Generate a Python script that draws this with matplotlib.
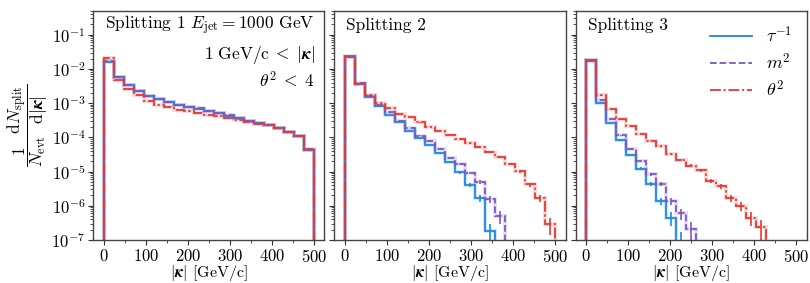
import numpy as np
import matplotlib.pyplot as plt
from matplotlib.ticker import MultipleLocator, LogLocator, NullFormatter

plt.rcParams.update({
    'font.family': 'serif',
    'font.serif': ['cmr10'],
    'mathtext.fontset': 'cm',
    'axes.formatter.use_mathtext': True,
    'axes.unicode_minus': False,
})

# bins in |kappa| [GeV/c]
kappa_edges = np.linspace(0, 500, 22)
bin_width = kappa_edges[1] - kappa_edges[0]
n_evt = 5e5  # used only for the statistical error bars

# Splitting 1
s1_tau = [1.64e-2, 5.7e-3, 3.43e-3, 2.23e-3, 1.62e-3, 1.28e-3, 1.06e-3, 9.0e-4, 7.8e-4, 6.9e-4,
          6.0e-4, 5.2e-4, 4.3e-4, 3.6e-4, 3.05e-4, 2.65e-4, 2.3e-4, 1.9e-4, 1.43e-4, 1.09e-4, 4.3e-5]
s1_m2 = [1.66e-2, 5.8e-3, 3.47e-3, 2.26e-3, 1.64e-3, 1.3e-3, 1.07e-3, 9.1e-4, 7.9e-4, 7.0e-4,
         6.05e-4, 5.25e-4, 4.35e-4, 3.62e-4, 3.07e-4, 2.66e-4, 2.31e-4, 1.91e-4, 1.44e-4, 1.1e-4, 4.4e-5]
s1_theta = [2.04e-2, 4.79e-3, 2.5e-3, 1.67e-3, 1.12e-3, 8.95e-4, 7.48e-4, 6.32e-4, 5.71e-4, 5.1e-4,
            4.58e-4, 4.17e-4, 3.65e-4, 3.27e-4, 2.73e-4, 2.47e-4, 2.23e-4, 1.89e-4, 1.4e-4, 1.07e-4, 4.69e-5]

# Splitting 2
s2_tau = [2.33e-2, 3.66e-3, 1.49e-3, 8.0e-4, 4.58e-4, 2.73e-4, 1.49e-4, 9.5e-5, 5.8e-5, 3.53e-5,
          1.91e-5, 9.6e-6, 4.0e-6, 1.71e-6, 1.8e-7]
s2_m2 = [2.29e-2, 3.92e-3, 1.6e-3, 8.55e-4, 5.35e-4, 2.98e-4, 1.87e-4, 1.12e-4, 7.6e-5, 4.69e-5,
         2.56e-5, 1.71e-5, 9.1e-6, 5.0e-6, 1.56e-6, 5.1e-7]
s2_theta = [2.29e-2, 3.66e-3, 1.75e-3, 1.02e-3, 7.13e-4, 4.9e-4, 3.9e-4, 2.73e-4, 2.0e-4, 1.52e-4,
            1.2e-4, 8.7e-5, 6.8e-5, 5.2e-5, 3.73e-5, 2.67e-5, 1.71e-5, 1.02e-5, 4.19e-6, 1.64e-6, 2.92e-7]

# Splitting 3
s3_tau = [1.81e-2, 1.02e-3, 2.61e-4, 8.2e-5, 2.99e-5, 1.22e-5, 4.28e-6, 1.37e-6, 4.45e-7, 8.4e-8]
s3_m2 = [1.87e-2, 1.25e-3, 3.5e-4, 1.14e-4, 4.56e-5, 2.04e-5, 8.5e-6, 4.36e-6, 1.37e-6, 6.0e-7, 2.05e-7]
s3_theta = [1.69e-2, 1.67e-3, 6.85e-4, 3.34e-4, 2.09e-4, 1.25e-4, 8.0e-5, 5.5e-5, 3.35e-5, 2.24e-5,
            1.5e-5, 1.09e-5, 5.3e-6, 3.73e-6, 1.64e-6, 9.8e-7, 4.45e-7, 2.44e-7]

panels = [
    ("Splitting 1 $E_{\\rm jet} = 1000$ GeV", s1_tau, s1_m2, s1_theta),
    ("Splitting 2", s2_tau, s2_m2, s2_theta),
    ("Splitting 3", s3_tau, s3_m2, s3_theta),
]

c_tau = '#1E88E5'
c_m2 = '#7E57C2'
c_theta = '#E53935'
dashdot = (0, (6, 1.5, 1.2, 1.5))


def draw_hist(ax, vals, color, ls, label):
    v = np.array(vals)
    e = kappa_edges[:len(v) + 1]
    # light halo under the line
    ax.stairs(v, e, baseline=1e-12, color=color, lw=2.8, alpha=0.2)
    ax.stairs(v, e, baseline=1e-12, color=color, lw=1.3, ls=ls, label=label)
    centers = 0.5 * (e[:-1] + e[1:])
    err = np.sqrt(v / (n_evt * bin_width))
    lo = np.minimum(err, v * 0.999)
    ax.errorbar(centers, v, yerr=[lo, err], fmt='none', ecolor=color, elinewidth=1.2)


fig, axes = plt.subplots(1, 3, figsize=(8.1, 2.83), dpi=100, sharex=True, sharey=True)
plt.subplots_adjust(left=0.115, right=0.996, bottom=0.152, top=0.962, wspace=0.043)

for ax, (title, tau, m2, theta) in zip(axes, panels):
    draw_hist(ax, tau, c_tau, '-', r'$\tau^{-1}$')
    draw_hist(ax, m2, c_m2, '--', r'$m^2$')
    draw_hist(ax, theta, c_theta, dashdot, r'$\theta^2$')
    ax.set_yscale('log')
    ax.set_ylim(1e-7, 0.5)
    ax.set_xlim(-25, 525)
    ax.yaxis.set_major_locator(LogLocator(base=10, numticks=15))
    ax.yaxis.set_minor_locator(LogLocator(base=10, subs=np.arange(2, 10), numticks=15))
    ax.yaxis.set_minor_formatter(NullFormatter())
    ax.xaxis.set_major_locator(MultipleLocator(100))
    ax.xaxis.set_minor_locator(MultipleLocator(50))
    ax.tick_params(labelsize=12, length=3.5, width=0.8, pad=2, color='#333333')
    ax.tick_params(which='minor', length=2, width=0.6, color='#333333')
    for sp in ax.spines.values():
        sp.set_color('#444444')
        sp.set_linewidth(1.0)
    ax.text(0.052, 0.938, title, transform=ax.transAxes, fontsize=12.5, va='center', ha='left')
    ax.set_xlabel(r'$|\boldsymbol{\kappa}|$ [GeV/c]', fontsize=11.5, labelpad=-1.5)

axes[0].text(0.957, 0.807, r'$1\ \mathrm{GeV/c}\; < \;|\boldsymbol{\kappa}|$', transform=axes[0].transAxes,
             fontsize=12.5, ha='right', va='center')
axes[0].text(0.957, 0.698, r'$\theta^2\; < \;4$', transform=axes[0].transAxes,
             fontsize=12.5, ha='right', va='center')
axes[0].set_ylabel(r'$\dfrac{1}{N_{\rm evt}}\dfrac{{\rm d}N_{\rm split}}{{\rm d}|\boldsymbol{\kappa}|}$',
                   fontsize=12.5, labelpad=1)

axes[2].legend(loc='upper right', frameon=False, fontsize=13, handlelength=2.3,
               handletextpad=0.8, labelspacing=0.35, borderaxespad=0.4)

plt.savefig('out.png', dpi=100)
